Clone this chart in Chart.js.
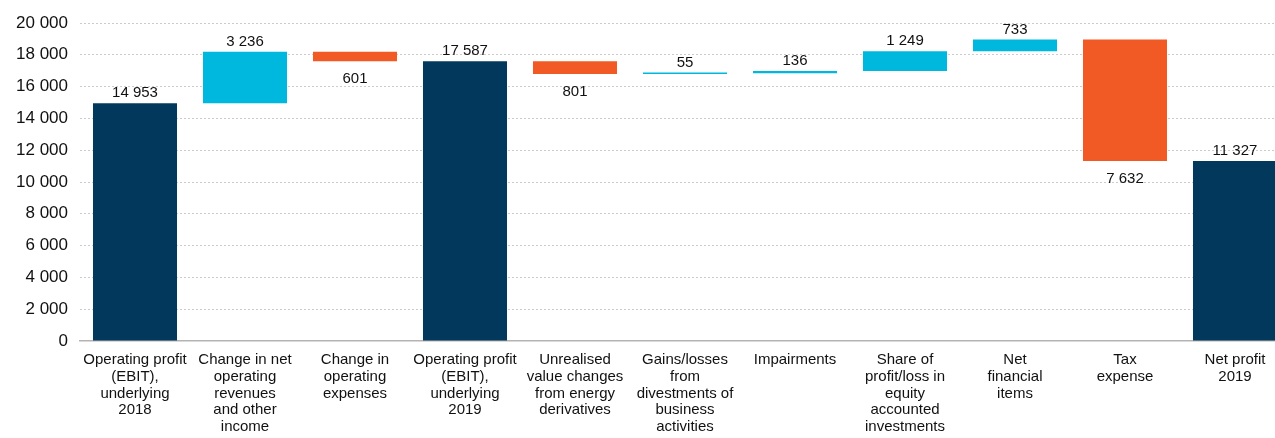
<!DOCTYPE html>
<html>
<head>
<meta charset="utf-8">
<script src="https://cdn.jsdelivr.net/npm/chart.js@4/dist/chart.umd.min.js"></script>
<style>
  html, body { margin: 0; padding: 0; background: #fff; overflow: hidden; }
  #wrap { width: 1290px; height: 438px; }
</style>
</head>
<body>
<div id="wrap"><canvas id="chart"></canvas></div>
<script>
// categories (multi-line labels)
const categories = [
    ['Operating profit', '(EBIT),', 'underlying', '2018'],
    ['Change in net', 'operating', 'revenues', 'and other', 'income'],
    ['Change in', 'operating', 'expenses'],
    ['Operating profit', '(EBIT),', 'underlying', '2019'],
    ['Unrealised', 'value changes', 'from energy', 'derivatives'],
    ['Gains/losses', 'from', 'divestments of', 'business', 'activities'],
    ['Impairments'],
    ['Share of', 'profit/loss in', 'equity', 'accounted', 'investments'],
    ['Net', 'financial', 'items'],
    ['Tax', 'expense'],
    ['Net profit', '2019'],
];

// values as shown on the chart (totals are absolute, others are changes)
const values = [14953, 3236, -601, 17587, -801, 55, 136, 1249, 733, -7632, 11327];
const isTotal = [true, false, false, true, false, false, false, false, false, false, true];

const yTicks = [0, 2000, 4000, 6000, 8000, 10000, 12000, 14000, 16000, 18000, 20000];

const NAVY = '#02385b';
const CYAN = '#00b7dd';
const ORANGE = '#f15a24';

// build floating bars from the running total
let running = 0;
const bars = values.map((v, i) => {
    if (isTotal[i]) {
        running = v;
        return [0, v];
    }
    const start = running;
    running += v;
    return [start, running];
});
const colors = values.map((v, i) => isTotal[i] ? NAVY : (v >= 0 ? CYAN : ORANGE));

const fmt = n => String(Math.abs(n)).replace(/\B(?=(\d{3})+(?!\d))/g, ' ');

const valueLabels = {
    id: 'valueLabels',
    afterDatasetsDraw(chart) {
        const ctx = chart.ctx;
        const meta = chart.getDatasetMeta(0);
        ctx.save();
        ctx.font = '15px "Liberation Sans", Arial, sans-serif';
        ctx.fillStyle = '#111';
        ctx.textAlign = 'center';
        meta.data.forEach((bar, i) => {
            const top = Math.min(bar.y, bar.base);
            const bottom = Math.max(bar.y, bar.base);
            if (values[i] >= 0) {
                ctx.textBaseline = 'alphabetic';
                ctx.fillText(fmt(values[i]), bar.x, top - 6);
            } else {
                ctx.textBaseline = 'top';
                ctx.fillText(fmt(values[i]), bar.x, bottom + 10);
            }
        });
        ctx.restore();
    }
};

new Chart(document.getElementById('chart'), {
    type: 'bar',
    data: {
        labels: categories,
        datasets: [{
            data: bars,
            backgroundColor: colors,
            borderWidth: 0,
            categoryPercentage: 1,
            barPercentage: 0.764,
            minBarLength: 1.5,
        }],
    },
    options: {
        responsive: true,
        maintainAspectRatio: false,
        animation: false,
        layout: { padding: { top: 23, right: 0, left: 0, bottom: 0 } },
        plugins: {
            legend: { display: false },
            tooltip: { enabled: false },
        },
        scales: {
            x: {
                grid: { display: false, drawTicks: false },
                border: { display: true, color: '#b3b3b3', width: 1.5 },
                ticks: {
                    color: '#111',
                    font: { family: '"Liberation Sans", Arial, sans-serif', size: 15, lineHeight: 1.13 },
                    padding: 10,
                    maxRotation: 0,
                    autoSkip: false,
                },
                afterFit(scale) { scale.height = 97; },
            },
            y: {
                min: 0,
                max: 20000,
                afterBuildTicks(scale) { scale.ticks = yTicks.map(v => ({ value: v })); },
                grid: {
                    color: ctx => ctx.tick && ctx.tick.value === 0 ? 'rgba(0,0,0,0)' : '#cccccc',
                    lineWidth: 1,
                    drawTicks: false,
                },
                border: { display: false, dash: [2, 2] },
                ticks: {
                    color: '#111',
                    font: { family: '"Liberation Sans", Arial, sans-serif', size: 17 },
                    padding: 12,
                    callback: v => fmt(v),
                },
                afterFit(scale) { scale.width = 80; },
            },
        },
    },
    plugins: [valueLabels],
});
</script>
</body>
</html>
